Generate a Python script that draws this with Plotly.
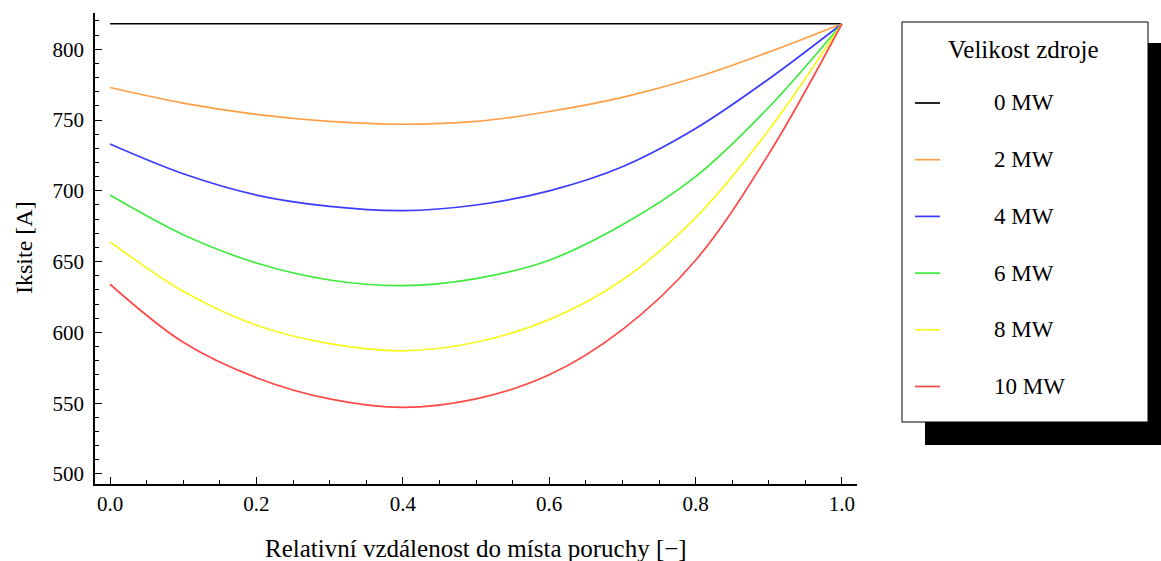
import plotly.graph_objects as go

# ---- data ----
x_pos = [0.0, 0.1, 0.2, 0.3, 0.4, 0.5, 0.6, 0.7, 0.8, 0.9, 1.0]
mw0 = [818, 818, 818, 818, 818, 818, 818, 818, 818, 818, 818]
mw2 = [773, 762, 754, 749, 747, 749, 756, 766, 780, 798, 818]
mw4 = [733, 712, 697, 689, 686, 690, 700, 717, 744, 779, 818]
mw6 = [697, 669, 649, 637, 633, 638, 651, 676, 710, 759, 818]
mw8 = [664, 629, 605, 592, 587, 593, 609, 637, 681, 743, 818]
mw10 = [634, 593, 568, 553, 547, 553, 570, 602, 651, 726, 818]

series_names = ["0 MW", "2 MW", "4 MW", "6 MW", "8 MW", "10 MW"]
series_values = [mw0, mw2, mw4, mw6, mw8, mw10]
series_colors = ["#000000", "#FF9F45", "#3C3CFF", "#3CEB3C", "#F7F722", "#FF4848"]

legend_title = "Velikost zdroje"
x_title = "Relativní vzdálenost do místa poruchy [−]"
y_title = "Iksite [A]"

FONT = "Liberation Serif"

# plot area in pixels
W, H = 1161, 561
L, R, T, B = 95, 857, 13, 484


def px(xp):
    return (xp - L) / (R - L)


def py(yp):
    return (B - yp) / (B - T)


fig = go.Figure()
for name, vals, col in zip(series_names, series_values, series_colors):
    fig.add_trace(go.Scatter(
        x=x_pos, y=vals, mode="lines", name=name,
        line=dict(color=col, width=1.7, shape="spline", smoothing=1.0),
        showlegend=False, hoverinfo="skip"))

shapes = []
annotations = []
# legend shadow and box
shapes.append(dict(type="rect", xref="paper", yref="paper",
                   x0=px(925), x1=px(1175), y0=py(445), y1=py(43),
                   fillcolor="black", line=dict(width=0), layer="above"))
shapes.append(dict(type="rect", xref="paper", yref="paper",
                   x0=px(902), x1=px(1148), y0=py(422), y1=py(22),
                   fillcolor="white", line=dict(color="black", width=1), layer="above"))
annotations.append(dict(text=legend_title, xref="paper", yref="paper",
                        x=px(1024), y=py(50), showarrow=False,
                        xanchor="center", yanchor="middle",
                        font=dict(family=FONT, size=25, color="black")))
for i, (name, col) in enumerate(zip(series_names, series_colors)):
    yc = 103 + i * 56.7
    shapes.append(dict(type="line", xref="paper", yref="paper",
                       x0=px(915), x1=px(940), y0=py(yc), y1=py(yc),
                       line=dict(color=col, width=1.7), layer="above"))
    annotations.append(dict(text=name, xref="paper", yref="paper",
                            x=px(992), y=py(yc), showarrow=False,
                            xanchor="left", yanchor="middle",
                            font=dict(family=FONT, size=23, color="black")))

annotations.append(dict(text=x_title, xref="paper", yref="paper",
                        x=px(476), y=py(548), showarrow=False,
                        xanchor="center", yanchor="middle",
                        font=dict(family=FONT, size=25, color="black")))
annotations.append(dict(text=y_title, xref="paper", yref="paper",
                        x=px(24), y=py(248), showarrow=False, textangle=-90,
                        xanchor="center", yanchor="middle",
                        font=dict(family=FONT, size=24, color="black")))

fig.update_layout(
    width=W, height=H,
    margin=dict(l=L, r=W - R, t=T, b=H - B, pad=0),
    paper_bgcolor="white", plot_bgcolor="white",
    font=dict(family=FONT, size=21, color="black"),
    shapes=shapes, annotations=annotations,
    showlegend=False,
)
fig.update_xaxes(
    range=[-0.0205, 1.0205], showgrid=False, zeroline=False,
    showline=True, linecolor="black", linewidth=1.5,
    ticks="inside", ticklen=7, tickwidth=1.2, tickcolor="black",
    tick0=0, dtick=0.2, tickformat=".1f",
    minor=dict(ticks="inside", dtick=0.05, ticklen=4, tickwidth=1, tickcolor="black"),
    tickfont=dict(family=FONT, size=21),
)
fig.update_yaxes(
    range=[492.9, 825.6], showgrid=False, zeroline=False,
    showline=True, linecolor="black", linewidth=1.5,
    ticks="inside", ticklen=7, tickwidth=1.2, tickcolor="black",
    tick0=500, dtick=50,
    minor=dict(ticks="inside", dtick=10, ticklen=4, tickwidth=1, tickcolor="black"),
    tickfont=dict(family=FONT, size=21), ticklabelstandoff=5,
)

fig.write_html("out.html")
